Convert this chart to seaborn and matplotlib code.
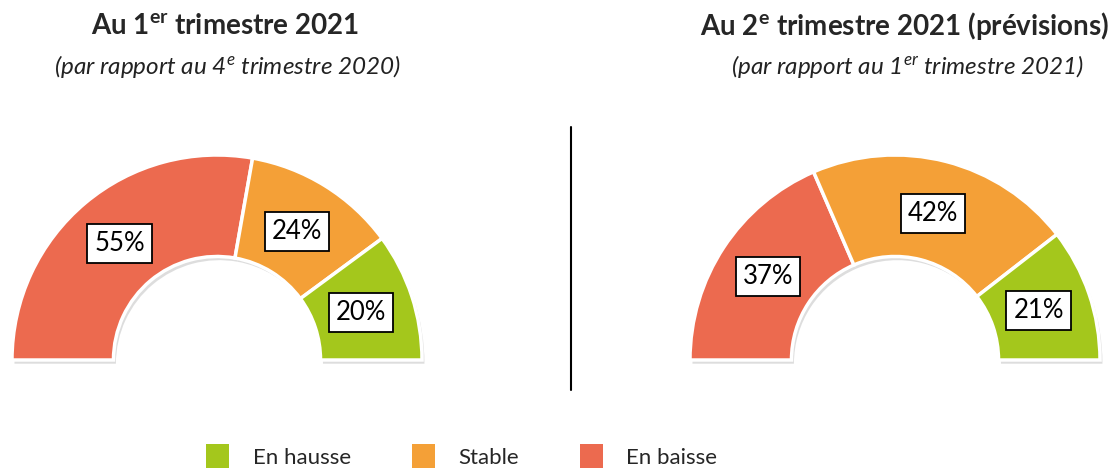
import seaborn as sns
import numpy as np
import matplotlib.pyplot as plt
from matplotlib.patches import Patch
from matplotlib.lines import Line2D

# data (order: En baisse, Stable, En hausse - drawn from left to right on the half ring)
categories = ['En baisse', 'Stable', 'En hausse']
q1_values = [55, 24, 20]
q2_values = [37, 42, 21]
titles = ['Au 1$^{\\mathbf{er}}$ trimestre 2021', 'Au 2$^{\\mathbf{e}}$ trimestre 2021 (prévisions)']
subtitles = ['(par rapport au 4$^{\\mathit{e}}$ trimestre 2020)', '(par rapport au 1$^{\\mathit{er}}$ trimestre 2021)']
colors = {'En hausse': '#A4C71C', 'Stable': '#F4A037', 'En baisse': '#EC6A4F'}

sns.set_style('white')
plt.rcParams['font.family'] = ['Lato', 'DejaVu Sans']
plt.rcParams['mathtext.fontset'] = 'custom'
plt.rcParams['mathtext.rm'] = 'Lato'
plt.rcParams['mathtext.it'] = 'Lato:italic'
plt.rcParams['mathtext.bf'] = 'Lato:bold'

W, H = 1118, 468
fig = plt.figure(figsize=(W / 100, H / 100), dpi=100)
R = 205


def half_donut(cx, cy, values, title, subtitle, tx, sx):
    # axes placed so that the ring center sits at pixel (cx, cy) from top-left
    ax = fig.add_axes([(cx - 1.1 * R) / W, (H - cy - 0.1 * R) / H, 2.2 * R / W, 1.2 * R / H])
    vals = list(values) + [sum(values)]
    cols = [colors[c] for c in categories] + ['none']
    labels = [f'{v}%' for v in values] + ['']
    # soft shadow
    sh, _ = ax.pie(vals, startangle=180, counterclock=False, radius=1.0, center=(0.012, -0.018),
                   colors=['#cfcfcf'] * 3 + ['none'], wedgeprops=dict(width=0.495, edgecolor='none'))
    for w in sh:
        w.set_alpha(0.7)
    wedges, texts = ax.pie(vals, startangle=180, counterclock=False, radius=1.0, colors=cols,
                           labels=labels, labeldistance=0.74,
                           wedgeprops=dict(width=0.495, edgecolor='white', linewidth=2.5),
                           textprops=dict(fontsize=18.5, color='black', ha='center', va='center'))
    wedges[-1].set_visible(False)
    for t in texts:
        t.set_ha('center')
        t.set_va('center')
        if t.get_text():
            t.set_bbox(dict(facecolor='white', edgecolor='black', linewidth=1.3, pad=5))
    ax.set_xlim(-1.1, 1.1)
    ax.set_ylim(-0.1, 1.1)
    ax.set_aspect('equal')
    ax.axis('off')
    fig.text(tx / W, 1 - 26 / H, title, ha='center', va='center', fontsize=20, fontweight='bold')
    fig.text(sx / W, 1 - 67 / H, subtitle, ha='center', va='center', fontsize=17.5,
             style='italic', color='#222222')


half_donut(217, 360, q1_values, titles[0], subtitles[0], 225, 228)
half_donut(895, 360, q2_values, titles[1], subtitles[1], 905, 907)

# vertical divider
fig.add_artist(Line2D([571 / W, 571 / W], [1 - 127 / H, 1 - 390 / H], color='black', linewidth=1.5))

legend_order = ['En hausse', 'Stable', 'En baisse']
handles = [Patch(facecolor=colors[c], edgecolor='none') for c in legend_order]
fig.legend(handles, legend_order, loc='lower center', bbox_to_anchor=(0.413, 0.0), ncol=3,
           frameon=False, fontsize=16, handlelength=1.04, handleheight=1.26, handletextpad=1.05,
           columnspacing=2.75, borderpad=0, borderaxespad=0)

fig.savefig('out.png', dpi=100)
